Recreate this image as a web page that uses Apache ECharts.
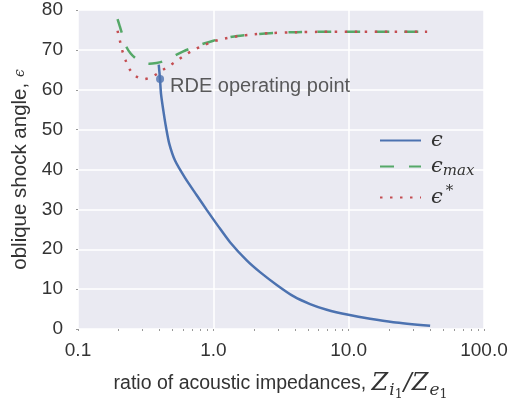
<!DOCTYPE html>
<html>
<head>
<meta charset="utf-8">
<script src="https://cdn.jsdelivr.net/npm/echarts@6/dist/echarts.min.js"></script>
<style>html,body{margin:0;padding:0;background:#fff}#c{width:509px;height:404px}</style>
</head>
<body>
<div id="c"></div>
<script>
// ε (blue)
const epsX = [0.395, 0.4036, 0.4106, 0.4272, 0.4471, 0.4729, 0.5212, 0.618, 0.7539, 0.8933, 1.0889, 1.3287, 1.7651, 2.2131, 2.9418, 3.8994, 5.1856, 6.8865, 9.954, 14.388, 21.38, 39.99];
const epsY = [66.3, 62.7, 58.95, 54.76, 50.58, 46.42, 42.24, 37.9, 33.55, 29.87, 25.74, 21.77, 17.2, 14.26, 11.05, 8.23, 6.25, 4.83, 3.55, 2.56, 1.72, 0.82];
// ε_max (green)
const maxX = [0.196, 0.204, 0.212, 0.22, 0.229, 0.245, 0.264, 0.29, 0.336, 0.38, 0.423, 0.48, 0.536, 0.6, 0.67, 0.76, 0.853, 1.0, 1.2, 1.5, 2.0, 2.62, 4.13, 6, 11.5, 20, 38];
const maxY = [77.7, 75.8, 74.0, 72.3, 70.6, 69.1, 68.0, 67.0, 66.5, 66.7, 67.1, 67.9, 68.8, 69.6, 70.3, 71.0, 71.6, 72.3, 72.9, 73.5, 73.9, 74.2, 74.45, 74.52, 74.56, 74.56, 74.56];
// ε* (red)
const starX = [0.196, 0.204, 0.212, 0.224, 0.239, 0.267, 0.309, 0.362, 0.42, 0.478, 0.55, 0.636, 0.73, 0.842, 1.0, 1.2, 1.5, 2.0, 2.62, 4.13, 6, 11.5, 20, 38];
const starY = [74.8, 72.3, 69.9, 67.5, 65.3, 63.4, 62.7, 63.5, 64.9, 66.1, 67.5, 69.0, 70.1, 71.1, 72.1, 72.8, 73.4, 73.9, 74.2, 74.45, 74.52, 74.56, 74.56, 74.56];
// operating point
const opPoint = [0.404, 62.7];
const xTicks = [0.1, 1, 10, 100];
const xTickLabels = ['0.1', '1.0', '10.0', '100.0'];
const yTicks = [0, 10, 20, 30, 40, 50, 60, 70, 80];
const xMinorTicks = [0.1,0.2,0.3,0.4,0.5,0.6,0.7,0.8,0.9,1,2,3,4,5,6,7,8,9,10,20,30,40,50,60,70,80,90,100];

const zip = (a, b) => a.map((v, i) => [v, b[i]]);
const txt = '#333';
const font = 'Liberation Sans, Arial, sans-serif';
const mathFont = 'DejaVu Serif, serif';

const chart = echarts.init(document.getElementById('c'), null, {renderer: 'canvas'});
chart.setOption({
  animation: false,
  backgroundColor: '#fff',
  grid: {left: 78, right: 25, top: 10, bottom: 75, show: true, backgroundColor: '#EAEAF2', borderWidth: 0,
         containLabel: false, outerBoundsMode: 'none'},
  xAxis: [{
    type: 'log', logBase: 10, min: 0.1, max: 100,
    axisLine: {show: false}, axisTick: {show: false},
    splitLine: {show: true, lineStyle: {color: '#fff', width: 1.5}},
    axisLabel: {
      color: txt, fontSize: 19, fontFamily: font, margin: 12,
      formatter: v => { const i = xTicks.findIndex(t => Math.abs(Math.log10(t) - Math.log10(v)) < 1e-6); return i >= 0 ? xTickLabels[i] : ''; }
    },
    name: 'ratio of acoustic impedances, {m|Z}{s|i}{ss|1}{m|/Z}{s|e}{ss|1}',
    nameLocation: 'middle', nameGap: 38,
    nameTextStyle: {
      color: txt, fontSize: 19.5, fontFamily: font,
      rich: {
        m: {fontSize: 24, fontFamily: mathFont, fontStyle: 'italic', color: txt},
        s: {fontSize: 17, fontFamily: mathFont, fontStyle: 'italic', color: txt, padding: [13, 0, 0, 1]},
        ss: {fontSize: 12.5, fontFamily: mathFont, color: txt, padding: [21, 1, 0, 0]}
      }
    }
  }, {
    type: 'log', logBase: 10, min: 0.1, max: 100, position: 'bottom',
    axisLine: {show: false}, splitLine: {show: false}, axisLabel: {show: false},
    axisTick: {show: true, length: 2, customValues: xMinorTicks, lineStyle: {color: '#999', width: 1}}
  }],
  yAxis: {
    type: 'value', min: 0, max: 80, interval: 10,
    axisLine: {show: false},
    axisTick: {show: true, length: 2, lineStyle: {color: '#999'}},
    splitLine: {show: true, lineStyle: {color: '#fff', width: 1.5}},
    axisLabel: {color: txt, fontSize: 19, fontFamily: font, margin: 15},
    name: 'oblique shock angle, {e|ϵ}',
    nameLocation: 'middle', nameGap: 44, nameRotate: 90,
    nameTextStyle: {color: txt, fontSize: 20.5, fontFamily: font,
      rich: {e: {fontSize: 14, fontFamily: mathFont, fontStyle: 'italic', color: txt}}}
  },
  legend: {
    data: ['eps', 'epsmax', 'epsstar'],
    orient: 'vertical', left: 374, top: 125, itemWidth: 41, itemHeight: 14, itemGap: 5,
    itemStyle: {opacity: 0},
    formatter: n => n === 'eps' ? '{e|ϵ}' : n === 'epsmax' ? '{e|ϵ}{s|max}' : '{e|ϵ}{p|*}',
    textStyle: {
      padding: [0, 0, 0, 5],
      rich: {
        e: {fontSize: 21, fontFamily: mathFont, fontStyle: 'italic', color: txt, height: 24},
        s: {fontSize: 15, fontFamily: mathFont, fontStyle: 'italic', color: txt, padding: [10, 0, 0, 0], height: 14},
        p: {fontSize: 15, fontFamily: mathFont, color: txt, padding: [0, 0, 12, 3], height: 14}
      }
    }
  },
  series: [
    {name: 'eps', type: 'line', data: zip(epsX, epsY), showSymbol: false, symbol: 'none', smooth: 0.25,
     lineStyle: {color: '#4C72B0', width: 2.5}, itemStyle: {color: '#4C72B0'}, z: 3},
    {name: 'epsmax', type: 'line', data: zip(maxX, maxY), showSymbol: false, symbol: 'none', smooth: 0.3,
     lineStyle: {color: '#55A868', width: 2.5, type: [14, 15]}, itemStyle: {color: '#55A868'}, z: 4},
    {name: 'epsstar', type: 'line', data: zip(starX, starY), showSymbol: false, symbol: 'none', smooth: 0.3,
     lineStyle: {color: '#C44E52', width: 2.5, type: [2.5, 7.5]}, itemStyle: {color: '#C44E52'}, z: 5},
    {name: 'op', type: 'scatter', data: [opPoint], symbol: 'circle', symbolSize: 8,
     itemStyle: {color: '#4C72B0'}, z: 6,
     label: {show: true, position: 'right', distance: 6, offset: [0, 8], formatter: 'RDE operating point',
       color: txt, fontSize: 20, fontFamily: font}}
  ]
});
</script>
</body>
</html>
